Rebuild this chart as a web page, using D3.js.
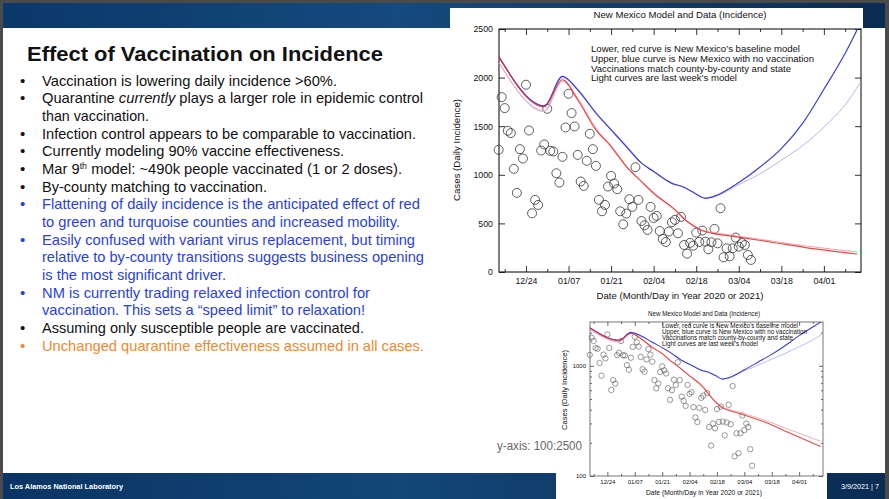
<!DOCTYPE html>
<html><head><meta charset="utf-8">
<script src="https://cdn.jsdelivr.net/npm/d3@7"></script>
<style>
body{margin:0;background:#fff;}
svg{display:block;font-family:"Liberation Sans",Arial,Helvetica,sans-serif;}
</style>
</head><body>
<svg id="s" width="889" height="499"></svg>
<script>
// ---------------- DATA ----------------
const obsStart = "2020-12-15";
const observed = [1257,1799,1686,1453,1429,1061,814,1264,1168,1927,
  1456,604,742,690,1250,1312,1679,1247,1240,1016,
  920,1185,1487,1834,1635,1497,1205,931,886,1144,
  1422,1264,1092,742,625,690,879,989,910,852,
  625,491,601,749,670,1078,742,525,481,433,
  670,556,577,422,340,309,416,512,536,398,
  567,278,189,299,271,405,309,426,312,234,
  306,443,295,656,151,244,161,244,354,261,
  299,278,175,124];

const redDates = ["2020-12-15","2020-12-30","2021-01-05","2021-01-10","2021-01-16","2021-01-21","2021-01-26","2021-01-31","2021-02-04","2021-02-11","2021-02-15","2021-02-20","2021-02-23","2021-03-01","2021-03-15","2021-03-26","2021-04-12"];
const redValues = [2218,1700,1978,1772,1463,1291,1085,930,810,639,519,425,400,372,306,251,185];
const lightRedValues = [2160,1650,1960,1790,1480,1300,1090,935,815,645,525,432,410,382,318,268,207];

const blueDates = ["2020-12-15","2020-12-30","2021-01-05","2021-01-10","2021-01-16","2021-01-21","2021-01-26","2021-01-31","2021-02-04","2021-02-10","2021-02-14","2021-02-17","2021-02-21","2021-02-24","2021-03-04","2021-03-11","2021-03-18","2021-03-25","2021-04-01","2021-04-08","2021-04-13"];
const blueValues = [2218,1710,2012,1875,1635,1463,1291,1120,1034,912,872,820,758,780,920,1080,1270,1530,1880,2250,2560];
const lightBlueValues = [2160,1660,2000,1880,1640,1470,1295,1125,1036,915,874,822,762,775,900,1010,1150,1300,1490,1720,1950];

const xDomain = ["2020-12-15 03","2021-04-13 05"];
const majorTickDates = ["2020-12-24","2021-01-07","2021-01-21","2021-02-04","2021-02-18","2021-03-04","2021-03-18","2021-04-01"];
const minorTickDates = ["2020-12-17","2020-12-31","2021-01-14","2021-01-28","2021-02-11","2021-02-25","2021-03-11","2021-03-25","2021-04-08"];
const linearYTicks = [0,500,1000,1500,2000,2500];
const logYMajor = [100,1000];
const logYMinor = [200,300,400,500,600,700,800,900,2000];

const chartTitle = "New Mexico Model and Data (Incidence)";
const xLabel = "Date (Month/Day in Year 2020 or 2021)";
const yLabel = "Cases (Daily Incidence)";
const legendLines = ["Lower, red curve is New Mexico\u2019s baseline model",
  "Upper, blue curve is New Mexico with no vaccination",
  "Vaccinations match county-by-county and state",
  "Light curves are last week\u2019s model"];

const slideTitle = "Effect of Vaccination on Incidence";
const bullets = [
  {parts:[{t:"Vaccination is lowering daily incidence >60%."}], c:"k", b:true, w:295},
  {parts:[{t:"Quarantine "},{t:"currently",i:true},{t:" plays a larger role in epidemic control"}], c:"k", b:true, w:381},
  {parts:[{t:"than vaccination."}], c:"k", b:false, w:107},
  {parts:[{t:"Infection control appears to be comparable to vaccination."}], c:"k", b:true, w:374},
  {parts:[{t:"Currently modeling 90% vaccine effectiveness."}], c:"k", b:true, w:302},
  {parts:[{t:"Mar 9"},{t:"th",sup:true},{t:" model: ~490k people vaccinated (1 or 2 doses)."}], c:"k", b:true, w:360},
  {parts:[{t:"By-county matching to vaccination."}], c:"k", b:true, w:225},
  {parts:[{t:"Flattening of daily incidence is the anticipated effect of red"}], c:"b", b:true, w:378},
  {parts:[{t:"to green and turquoise counties and increased mobility."}], c:"b", b:false, w:358},
  {parts:[{t:"Easily confused with variant virus replacement, but timing"}], c:"b", b:true, w:373},
  {parts:[{t:"relative to by-county transitions suggests business opening"}], c:"b", b:false, w:382},
  {parts:[{t:"is the most significant driver."}], c:"b", b:false, w:184},
  {parts:[{t:"NM is currently trading relaxed infection control for"}], c:"b", b:true, w:328},
  {parts:[{t:"vaccination.  This sets a \u201cspeed limit\u201d to relaxation!"}], c:"b", b:false, w:323},
  {parts:[{t:"Assuming only susceptible people are vaccinated."}], c:"k", b:true, w:322},
  {parts:[{t:"Unchanged quarantine effectiveness assumed in all cases."}], c:"o", b:true, w:382}
];
const textColors = {k:"#111111", b:"#2a3fe0", o:"#ec8a2e"};

// ---------------- SETUP ----------------
const parseDay = d3.timeParse("%Y-%m-%d");
const parseHour = d3.timeParse("%Y-%m-%d %H");
const fmt = d3.timeFormat("%m/%d");
const majorTicks = majorTickDates.map(parseDay);
const minorTicks = minorTickDates.map(parseDay);
const obs = observed.map((v,i)=>({date:d3.timeDay.offset(parseDay(obsStart), i), v}));
const mk = (dates, vals) => dates.map((d,i)=>({date:parseDay(d), v:vals[i]}));
const series = [
  {data:mk(blueDates, lightBlueValues), color:"#b4b6f0", w:1},
  {data:mk(redDates, lightRedValues), color:"#f3a6b0", w:1},
  {data:mk(blueDates, blueValues), color:"#3d3fd0", w:1.2},
  {data:mk(redDates, redValues), color:"#e02a2a", w:1.2, op:0.85}
];

const svg = d3.select("#s");
const defs = svg.append("defs");
function grad(id, stops){
  const g = defs.append("linearGradient").attr("id",id).attr("x1","0").attr("x2","1").attr("y1","0").attr("y2","0");
  stops.forEach(s=>g.append("stop").attr("offset",s[0]).attr("stop-color",s[1]));
}
grad("hdr", [["0%","#0b386a"],["45%","#154a7e"],["100%","#0a2b52"]]);
grad("ftr", [["0%","#0a3464"],["45%","#134679"],["100%","#0b2c53"]]);

// outer frame
svg.append("rect").attr("x",0).attr("y",0).attr("width",889).attr("height",499).attr("fill","#4a4a4a");
svg.append("rect").attr("x",3).attr("y",3).attr("width",882).attr("height",496).attr("fill","#ffffff");
svg.append("rect").attr("x",3).attr("y",3).attr("width",882).attr("height",25).attr("fill","url(#hdr)");
svg.append("rect").attr("x",3).attr("y",473).attr("width",882).attr("height",26).attr("fill","url(#ftr)");

// footer text
svg.append("text").attr("x",10).attr("y",489).attr("fill","#fff").attr("font-size",8).attr("font-weight","bold")
  .attr("textLength",113).attr("lengthAdjust","spacingAndGlyphs").text("Los Alamos National Laboratory");
svg.append("text").attr("x",841).attr("y",489).attr("fill","#fff").attr("font-size",8)
  .attr("textLength",38).attr("lengthAdjust","spacingAndGlyphs").text("3/9/2021  |  7");

// slide title + bullets
svg.append("text").attr("x",27).attr("y",61).attr("font-size",21).attr("font-weight","bold").attr("fill","#111")
  .attr("textLength",356).attr("lengthAdjust","spacingAndGlyphs").text(slideTitle);
bullets.forEach((b,i)=>{
  const yb = 85.7 + i*17.66;
  const col = textColors[b.c];
  if(b.b) svg.append("text").attr("x",20).attr("y",yb).attr("font-size",15).attr("fill",col).text("\u2022");
  const t = svg.append("text").attr("x",42).attr("y",yb).attr("font-size",15).attr("fill",col)
    .attr("textLength",b.w).attr("lengthAdjust","spacingAndGlyphs");
  b.parts.forEach(p=>{
    const ts = t.append("tspan").text(p.t);
    if(p.i) ts.attr("font-style","italic");
    if(p.sup) ts.attr("font-size",9).attr("baseline-shift","super");
  });
});

// ---------------- CHART DRAWER ----------------
function drawChart(o){
  const g = svg.append("g");
  g.append("rect").attr("x",o.px).attr("y",o.py).attr("width",o.pw).attr("height",o.ph).attr("fill","#ffffff");
  const x = d3.scaleTime().domain(xDomain.map(parseHour)).range([o.L, o.R]);
  const y = o.log ? d3.scaleLog().domain([100,2500]).range([o.B, o.T])
                  : d3.scaleLinear().domain([0,2500]).range([o.B, o.T]);
  const cid = "clip"+o.id;
  defs.append("clipPath").attr("id",cid).append("rect").attr("x",o.L).attr("y",o.T).attr("width",o.R-o.L).attr("height",o.B-o.T);

  const style = (sel, fs) => {
    sel.select(".domain").remove();
    sel.attr("font-family",null).attr("font-size",fs);
    sel.selectAll("line").attr("stroke",o.tickColor).attr("stroke-width",0.8);
    sel.selectAll("text").attr("fill","#111");
  };
  // x axes
  g.append("g").attr("transform",`translate(0,${o.B})`)
    .call(d3.axisBottom(x).tickValues(majorTicks).tickFormat(fmt).tickSize(-o.tk).tickPadding(o.xpad)).call(s=>style(s,o.fsTick));
  g.append("g").attr("transform",`translate(0,${o.B})`)
    .call(d3.axisBottom(x).tickValues(minorTicks).tickFormat("").tickSize(-o.tk/2)).call(s=>style(s,o.fsTick));
  g.append("g").attr("transform",`translate(0,${o.T})`)
    .call(d3.axisTop(x).tickValues(majorTicks).tickFormat("").tickSize(-o.tk)).call(s=>style(s,o.fsTick));
  g.append("g").attr("transform",`translate(0,${o.T})`)
    .call(d3.axisTop(x).tickValues(minorTicks).tickFormat("").tickSize(-o.tk/2)).call(s=>style(s,o.fsTick));
  // y axes
  const yMaj = o.log ? logYMajor : linearYTicks;
  g.append("g").attr("transform",`translate(${o.L},0)`)
    .call(d3.axisLeft(y).tickValues(yMaj).tickFormat(d3.format("d")).tickSize(-o.tk).tickPadding(o.ypad)).call(s=>style(s,o.fsTick));
  g.append("g").attr("transform",`translate(${o.R},0)`)
    .call(d3.axisRight(y).tickValues(yMaj).tickFormat("").tickSize(-o.tk)).call(s=>style(s,o.fsTick));
  if(o.log){
    g.append("g").attr("transform",`translate(${o.L},0)`)
      .call(d3.axisLeft(y).tickValues(logYMinor).tickFormat("").tickSize(-o.tk/2)).call(s=>style(s,o.fsTick));
    g.append("g").attr("transform",`translate(${o.R},0)`)
      .call(d3.axisRight(y).tickValues(logYMinor).tickFormat("").tickSize(-o.tk/2)).call(s=>style(s,o.fsTick));
  }
  // frame
  g.append("rect").attr("x",o.L).attr("y",o.T).attr("width",o.R-o.L).attr("height",o.B-o.T)
    .attr("fill","none").attr("stroke",o.frameColor).attr("stroke-width",o.frameW);

  // observed circles
  g.append("g").selectAll("circle").data(obs).join("circle")
    .attr("cx",d=>x(d.date)).attr("cy",d=>y(d.v)).attr("r",o.r)
    .attr("fill","none").attr("stroke",o.circleColor).attr("stroke-width",o.circleW);

  // model curves
  const line = d3.line().x(d=>x(d.date)).y(d=>y(d.v)).curve(d3.curveMonotoneX);
  const cg = g.append("g").attr("clip-path",`url(#${cid})`);
  series.forEach(s=>{
    cg.append("path").attr("d",line(s.data)).attr("fill","none").attr("stroke",s.color)
      .attr("stroke-width",s.w*o.lw).attr("stroke-opacity",s.op||1).attr("stroke-linejoin","round");
  });

  // texts
  g.append("text").attr("x",(o.titleX)).attr("y",o.titleY).attr("text-anchor","middle").attr("font-size",o.fsLab)
    .attr("fill","#111").attr("textLength",o.titleW).attr("lengthAdjust","spacingAndGlyphs").text(chartTitle);
  g.append("text").attr("x",o.titleX).attr("y",o.xlabY).attr("text-anchor","middle").attr("font-size",o.fsLab)
    .attr("fill","#111").attr("textLength",o.xlabW).attr("lengthAdjust","spacingAndGlyphs").text(xLabel);
  g.append("text").attr("transform",`translate(${o.ylabX},${o.ylabY}) rotate(-90)`).attr("text-anchor","middle")
    .attr("font-size",o.fsLab).attr("fill","#111").attr("textLength",o.ylabW).attr("lengthAdjust","spacingAndGlyphs").text(yLabel);
  legendLines.forEach((t,i)=>{
    g.append("text").attr("x",o.legX).attr("y",o.legY + i*o.legDy).attr("font-size",o.fsLab).attr("fill","#111")
      .attr("textLength",o.legW[i]).attr("lengthAdjust","spacingAndGlyphs").text(t);
  });
}

// top chart
drawChart({id:1, px:450, py:8, pw:413, ph:297, L:499, R:861, T:29, B:272, log:false,
  tk:6, xpad:6, ypad:6, fsTick:8.8, fsLab:9.5, tickColor:"#000", frameColor:"#000", frameW:1,
  r:4.5, circleColor:"#333", circleW:0.8, lw:1,
  titleX:680, titleY:18.3, titleW:173, xlabY:298.6, xlabW:167, ylabX:460, ylabY:150, ylabW:102,
  legX:591, legY:52, legDy:9.8, legW:[209,223,200,146]});

// bottom (log) chart
drawChart({id:2, px:556, py:311, pw:271, ph:188, L:590, R:823, T:322, B:476, log:true,
  tk:4, xpad:4, ypad:4, fsTick:6, fsLab:6.5, tickColor:"#444", frameColor:"#555", frameW:0.8,
  r:2.7, circleColor:"#555", circleW:0.6, lw:0.9,
  titleX:704, titleY:315.5, titleW:112, xlabY:495, xlabW:116, ylabX:567, ylabY:390, ylabW:80,
  legX:662, legY:328, legDy:6.1, legW:[136,145,131,96]});

svg.append("text").attr("x",497).attr("y",450).attr("font-size",12.5).attr("fill","#666")
  .attr("textLength",85).attr("lengthAdjust","spacingAndGlyphs").text("y-axis: 100:2500");
</script>
</body></html>
